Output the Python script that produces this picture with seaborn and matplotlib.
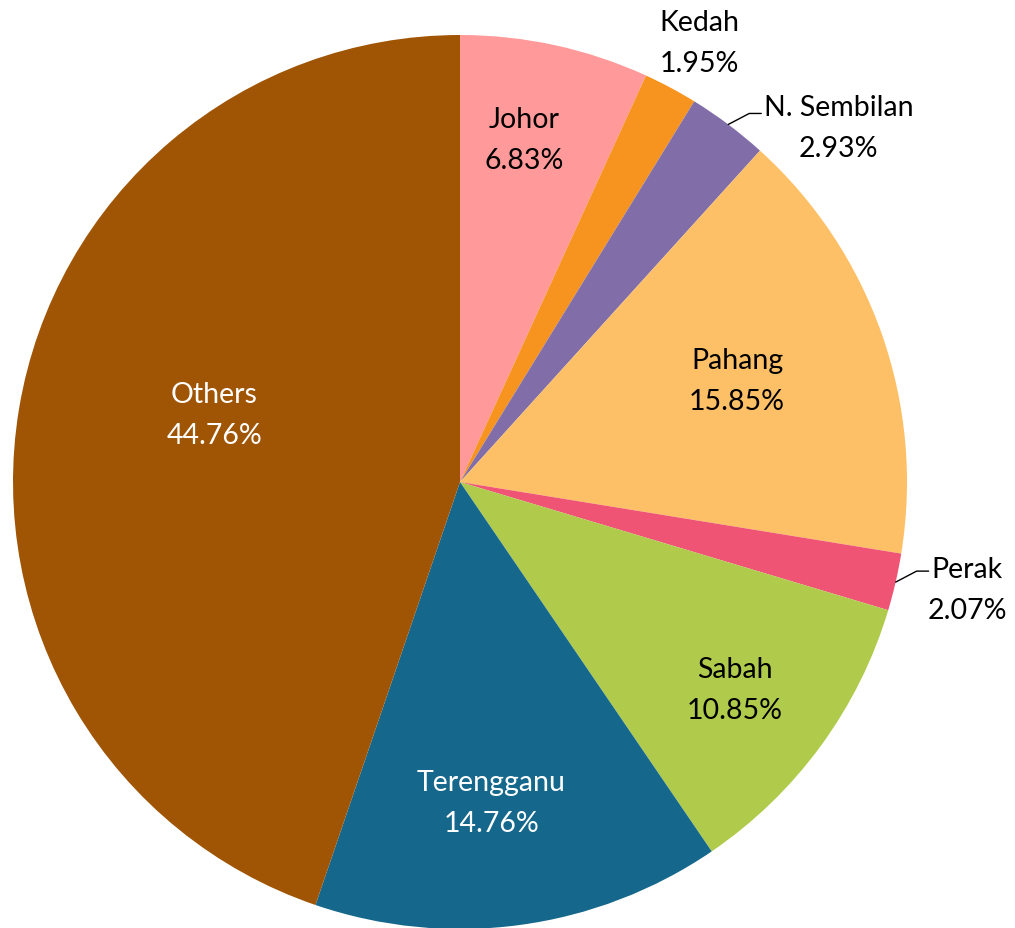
import numpy as np
import matplotlib
matplotlib.use("Agg")
import matplotlib.pyplot as plt
import seaborn as sns

# --- data ---
states = ["Johor", "Kedah", "N. Sembilan", "Pahang", "Perak", "Sabah", "Terengganu", "Others"]
shares = [6.83, 1.95, 2.93, 15.85, 2.07, 10.85, 14.76, 44.76]
hex_colors = ["#FF999A", "#F7931F", "#816EA8", "#FDC067", "#EF5474", "#B0CB4B", "#15678B", "#A05505"]
text_colors = ["black", "black", "black", "black", "black", "black", "white", "white"]

# label layout: radius (fraction of pie radius) and angular nudge in degrees
label_r = [0.78, 1.12, 1.16, 0.66, 1.16, 0.77, 0.72, 0.57]
label_nudge = [1.7, -0.5, -10.0, 0.8, 1.0, -0.9, -2.1, -6.0]
leader = [False, False, True, False, True, False, False, False]

sns.set_style("white")
plt.rcParams["font.family"] = ["Lato", "DejaVu Sans"]

W, H = 1015, 929
cx, cy, R = 460, 483, 447
fig = plt.figure(figsize=(W / 100, H / 100), dpi=100)
ax = fig.add_axes([0, 0, 1, 1])
ax.axis("off")

palette = sns.color_palette(hex_colors)
wedges, _ = ax.pie(shares, colors=palette, startangle=90, counterclock=False,
                   radius=1.0, wedgeprops=dict(linewidth=0))
ax.set_aspect("auto")
ax.set_xlim(-cx / R, (W - cx) / R)
ax.set_ylim((cy - H) / R, cy / R)

for i, w in enumerate(wedges):
    mid = np.deg2rad((w.theta1 + w.theta2) / 2)
    ang = mid + np.deg2rad(label_nudge[i])
    lx, ly = label_r[i] * np.cos(ang), label_r[i] * np.sin(ang)
    txt = f"{states[i]}\n{shares[i]:.2f}%"
    ax.text(lx, ly, txt, ha="center", va="center", fontsize=20.5,
            color=text_colors[i], linespacing=1.72)
    if leader[i]:
        x0, y0 = np.cos(mid), np.sin(mid)
        x1, y1 = x0 + 21 / R, y0 + 11 / R
        x2 = x1 + 12 / R
        ax.plot([x0, x1, x2], [y0, y1, y1], color="black", lw=1.0)

fig.savefig("out.png", dpi=100)
plt.close(fig)
